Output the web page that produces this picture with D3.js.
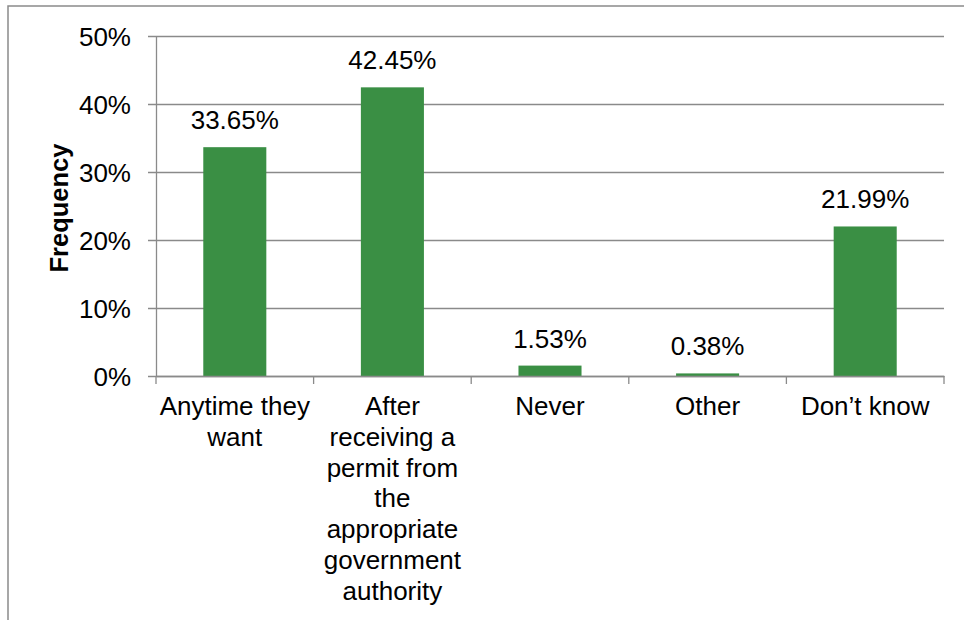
<!DOCTYPE html>
<html><head><meta charset="utf-8">
<script src="https://cdn.jsdelivr.net/npm/d3@7"></script>
<style>
html,body{margin:0;padding:0;background:#fff;}
svg{display:block;font-family:"Liberation Sans",Arial,sans-serif;}
</style></head>
<body>
<svg id="chart" width="964" height="620"></svg>
<script>
const categories = [
  ["Anytime they", "want"],
  ["After", "receiving a", "permit from", "the", "appropriate", "government", "authority"],
  ["Never"],
  ["Other"],
  ["Don\u2019t know"]
];
const categoryKeys = ["Anytime they want", "After receiving a permit", "Never", "Other", "Don't know"];
const values = [33.65, 42.45, 1.53, 0.38, 21.99];
const valueLabels = ["33.65%", "42.45%", "1.53%", "0.38%", "21.99%"];
const yTicks = [0, 10, 20, 30, 40, 50];
const yTickLabels = ["0%", "10%", "20%", "30%", "40%", "50%"];
const yTitle = "Frequency";

(function () {
const svg = d3.select("#chart");
const pLeft = 156, pRight = 944, pTop = 36, pBottom = 376;
const gray = "#8a8a8a";
const green = "#3a8f44";

// outer border
svg.append("rect").attr("x", 8).attr("y", 6).attr("width", 1000).attr("height", 700)
  .attr("fill", "none").attr("stroke", gray).attr("stroke-width", 1.5);

const x = d3.scaleBand().domain(categoryKeys).range([pLeft, pRight]).paddingInner(0).paddingOuter(0);
const y = d3.scaleLinear().domain([0, 50]).range([pBottom, pTop]);

// gridlines + y ticks
const yAxis = d3.axisLeft(y).tickValues(yTicks).tickSize(-(pRight - pLeft)).tickSizeOuter(0)
  .tickFormat((d, i) => yTickLabels[i]).tickPadding(0);
const gy = svg.append("g").attr("transform", `translate(${pLeft},0)`).call(yAxis);
gy.select(".domain").attr("stroke", gray).attr("stroke-width", 1.3);
gy.selectAll(".tick line").attr("stroke", gray).attr("stroke-width", 1.3)
  .attr("x1", -8).attr("x2", pRight - pLeft);
gy.selectAll(".tick text").attr("x", -25).attr("dy", "0.36em")
  .attr("font-size", 26).attr("fill", "#000").attr("font-family", "Liberation Sans, Arial, sans-serif");

// bars
const barW = x.bandwidth() * 0.4;
svg.append("g").selectAll("rect").data(values).join("rect")
  .attr("x", (d, i) => x(categoryKeys[i]) + (x.bandwidth() - barW) / 2)
  .attr("y", d => y(d))
  .attr("width", barW)
  .attr("height", d => y(0) - y(d))
  .attr("fill", green);

// x axis
const xAxis = d3.axisBottom(x).tickSize(0).tickFormat("");
const gx = svg.append("g").attr("transform", `translate(0,${pBottom})`).call(xAxis);
gx.select(".domain").attr("stroke", gray).attr("stroke-width", 1.3);
gx.selectAll(".tick").remove();
const boundaries = categoryKeys.map(k => x(k)).concat([pRight]);
gx.selectAll("line.sep").data(boundaries).join("line").attr("class", "sep")
  .attr("x1", d => d).attr("x2", d => d).attr("y1", 0).attr("y2", 8)
  .attr("stroke", gray).attr("stroke-width", 1.3);

// category labels
const catG = svg.append("g");
categories.forEach((lines, i) => {
  const cx = x(categoryKeys[i]) + x.bandwidth() / 2;
  const t = catG.append("text").attr("text-anchor", "middle").attr("font-size", 26).attr("fill", "#000");
  lines.forEach((ln, j) => {
    t.append("tspan").attr("x", cx).attr("y", 415 + j * 30.8).text(ln);
  });
});

// value labels
svg.append("g").selectAll("text").data(values).join("text")
  .attr("x", (d, i) => x(categoryKeys[i]) + x.bandwidth() / 2)
  .attr("y", d => y(d) - 18)
  .attr("text-anchor", "middle").attr("font-size", 26).attr("fill", "#000")
  .text((d, i) => valueLabels[i]);

// y title
svg.append("text").attr("transform", `translate(68,${(pTop + pBottom) / 2 + 2}) rotate(-90)`)
  .attr("text-anchor", "middle").attr("font-size", 25.5).attr("font-weight", "bold").attr("fill", "#000")
  .text(yTitle);
})();
</script>
</body></html>
